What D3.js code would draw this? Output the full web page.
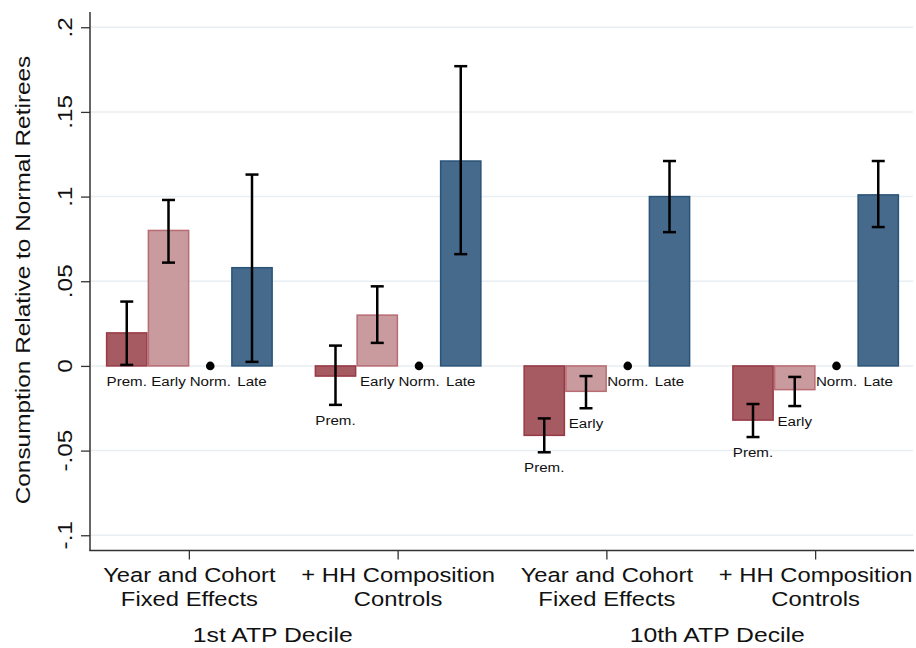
<!DOCTYPE html>
<html><head><meta charset="utf-8">
<script src="https://cdn.jsdelivr.net/npm/d3@7"></script>
<style>body{margin:0;background:#fff}svg{display:block}text{font-family:"Liberation Sans",Arial,sans-serif;fill:#111}</style>
</head><body><svg id="c" width="916" height="648"></svg>
<script>
const groups = ["g1","g2","g3","g4"];
const groupLine1 = ["Year and Cohort","+ HH Composition","Year and Cohort","+ HH Composition"];
const groupLine2 = ["Fixed Effects","Controls","Fixed Effects","Controls"];
const superLabels = ["1st ATP Decile","10th ATP Decile"];
const types = ["Prem.","Early","Norm.","Late"];
const values = [
  [0.0195, 0.080, 0, 0.058],
  [-0.006, 0.030, 0, 0.121],
  [-0.041, -0.015, 0, 0.100],
  [-0.032, -0.014, 0, 0.101]
];
const ciLow = [
  [0.0006, 0.061, null, 0.0024],
  [-0.023, 0.0136, null, 0.066],
  [-0.051, -0.025, null, 0.079],
  [-0.042, -0.0237, null, 0.082]
];
const ciHigh = [
  [0.038, 0.098, null, 0.113],
  [0.012, 0.047, null, 0.177],
  [-0.031, -0.006, null, 0.121],
  [-0.0225, -0.0065, null, 0.121]
];
const yTicks = [-0.1,-0.05,0,0.05,0.1,0.15,0.2];
const yTickLabels = ["-.1","-.05","0",".05",".1",".15",".2"];
const fills = ["#a65a62","#c99a9e",null,"#466a8c"];
const strokes = ["#983a46","#b86c74",null,"#2a5378"];

const svg = d3.select("#c");
const x0 = 90;
const y = d3.scaleLinear().domain([-0.109, 0.209]).range([550.5, 12]);
const gx = d3.scaleBand().domain(groups).range([85, 920]).padding(0);
const tx = d3.scaleBand().domain(types).range([0, 167]).paddingInner(0);

function stext(parent, x, yy, str, size, sx, rot) {
  parent.append("text")
    .attr("transform", `translate(${x},${yy})${rot?" rotate(-90)":""} scale(${sx},1)`)
    .attr("text-anchor","middle").attr("font-size", size).text(str);
}

// gridlines
svg.append("g").selectAll("line").data(yTicks).join("line")
  .attr("x1", x0).attr("x2", 913).attr("y1", d=>y(d)).attr("y2", d=>y(d))
  .attr("stroke", "#e8eef2").attr("stroke-width", 1.5);

// y axis
const ya = svg.append("g").attr("transform", `translate(${x0},0)`)
  .call(d3.axisLeft(y).tickValues(yTicks).tickSize(9).tickFormat(""));
ya.select(".domain").attr("d", `M0,12V${y.range()[0]}`).attr("stroke","#333").attr("stroke-width",1.5);
ya.selectAll(".tick line").attr("stroke","#333").attr("stroke-width",1.3);
yTicks.forEach((t,i)=> stext(svg, 72, y(t), yTickLabels[i], 19.5, 1.25, true));
stext(svg, 30, (12+550)/2 - 1, "Consumption Relative to Normal Retirees", 20, 1.22, true);

// x axis
const xa = svg.append("g").attr("transform", `translate(0,${y.range()[0]})`);
xa.append("line").attr("x1", x0-0.75).attr("x2", 914).attr("stroke","#333").attr("stroke-width",1.5);
groups.forEach((g,i)=>{
  const cx = gx(g) + gx.bandwidth()/2;
  xa.append("line").attr("x1",cx).attr("x2",cx).attr("y1",0).attr("y2",9).attr("stroke","#333").attr("stroke-width",1.3);
  stext(xa, cx, 31, groupLine1[i], 19.5, 1.22, false);
  stext(xa, cx, 55, groupLine2[i], 19.5, 1.22, false);
});
const superOffset = [-21, 6];
superLabels.forEach((s,i)=>{
  const cx = (gx(groups[2*i]) + gx(groups[2*i+1]) + gx.bandwidth())/2 + superOffset[i];
  stext(svg, cx, 642, s, 19.5, 1.27, false);
});

// bars
groups.forEach((g,gi)=>{
  const base = gx(g) + gx.bandwidth()/2 - 2*tx.bandwidth();
  const gg = svg.append("g").attr("transform",`translate(${base},0)`);
  types.forEach((t,ti)=>{
    const v = values[gi][ti];
    const cx = tx(t) + tx.bandwidth()/2;
    if (ti === 2) {
      gg.append("circle").attr("cx",cx).attr("cy",y(v)).attr("r",4.3).attr("fill","#000");
    } else {
      gg.append("rect").attr("x",tx(t)+0.75).attr("width",tx.bandwidth()-1.5)
        .attr("y",y(Math.max(0,v))).attr("height",Math.abs(y(v)-y(0)))
        .attr("fill",fills[ti]).attr("stroke",strokes[ti]).attr("stroke-width",1.5);
      const lo = ciLow[gi][ti], hi = ciHigh[gi][ti];
      gg.append("line").attr("x1",cx).attr("x2",cx).attr("y1",y(lo)).attr("y2",y(hi)).attr("stroke","#000").attr("stroke-width",2.5);
      [lo,hi].forEach(e=>gg.append("line").attr("x1",cx-6.5).attr("x2",cx+6.5).attr("y1",y(e)).attr("y2",y(e)).attr("stroke","#000").attr("stroke-width",2.5));
    }
    const lo = ciLow[gi][ti];
    const bottom = Math.min(0, lo===null?0:lo, v);
    stext(gg, cx, y(bottom)+20, t, 13.5, 1.12, false);
  });
});
</script></body></html>
